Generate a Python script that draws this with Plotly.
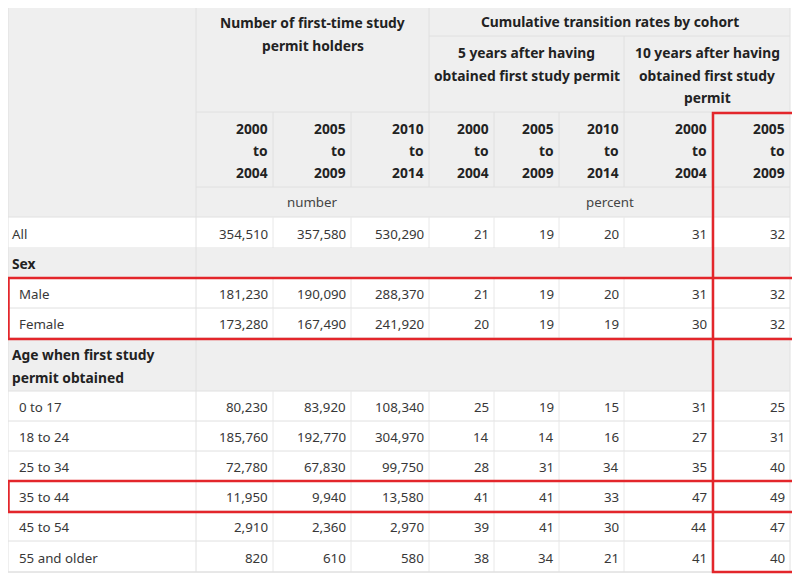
import plotly.graph_objects as go

# ---------------- data ----------------
row_labels = ["All", "Male", "Female", "0 to 17", "18 to 24", "25 to 34",
              "35 to 44", "45 to 54", "55 and older"]
holders_2000_2004 = [354510, 181230, 173280, 80230, 185760, 72780, 11950, 2910, 820]
holders_2005_2009 = [357580, 190090, 167490, 83920, 192770, 67830, 9940, 2360, 610]
holders_2010_2014 = [530290, 288370, 241920, 108340, 304970, 99750, 13580, 2970, 580]
rate5_2000_2004 = [21, 21, 20, 25, 14, 28, 41, 39, 38]
rate5_2005_2009 = [19, 19, 19, 19, 14, 31, 41, 41, 34]
rate5_2010_2014 = [20, 20, 19, 15, 16, 34, 33, 30, 21]
rate10_2000_2004 = [31, 31, 30, 31, 27, 35, 47, 44, 41]
rate10_2005_2009 = [32, 32, 32, 25, 31, 40, 49, 47, 40]
cohort_labels = ["2000 to 2004", "2005 to 2009", "2010 to 2014",
                 "2000 to 2004", "2005 to 2009", "2010 to 2014",
                 "2000 to 2004", "2005 to 2009"]
section_labels = ["Sex", "Age when first study permit obtained"]
group_titles = ["Number of first-time study permit holders",
                "Cumulative transition rates by cohort",
                "5 years after having obtained first study permit",
                "10 years after having obtained first study permit"]
unit_labels = ["number", "percent"]

columns = [holders_2000_2004, holders_2005_2009, holders_2010_2014,
           rate5_2000_2004, rate5_2005_2009, rate5_2010_2014,
           rate10_2000_2004, rate10_2005_2009]

# ---------------- layout geometry (page pixels) ----------------
OFF = 8  # page body margin of the html page
X0, X1 = 8, 790
col_edges = [196, 273, 351, 429, 494, 559, 624, 712, 790]
Y_TOP, Y_BOT = 5, 572
GRAY = "#efefef"
LINE = "#e0e0e0"
TXT = "#383838"
HDR = "#222222"
FONT = "Noto Sans"
FS = 13.3
FSH = 13.8
PAD_R = 3

body = [("d", 0, 217, 248), ("s", 0, 248, 278), ("d", 1, 278, 308), ("d", 2, 308, 338),
        ("s", 1, 338, 391), ("d", 3, 391, 421), ("d", 4, 421, 451), ("d", 5, 451, 481),
        ("d", 6, 481, 511), ("d", 7, 511, 541), ("d", 8, 541, 572)]

shapes = []
annotations = []

def rect(x0, y0, x1, y1, fill):
    shapes.append(dict(type="rect", xref="x", yref="y", x0=x0, y0=y0, x1=x1, y1=y1,
                       fillcolor=fill, line=dict(color=fill, width=0), layer="below"))

def hline(y, x0, x1, color=LINE):
    shapes.append(dict(type="line", xref="x", yref="y", x0=x0, x1=x1, y0=y, y1=y,
                       line=dict(color=color, width=1), layer="below"))

def vline(x, y0, y1, color=LINE):
    shapes.append(dict(type="line", xref="x", yref="y", x0=x, x1=x, y0=y0, y1=y1,
                       line=dict(color=color, width=1), layer="below"))

def text(x, y, s, anchor="left", bold=False, color=TXT, size=None):
    if size is None:
        size = FSH if bold else FS
    annotations.append(dict(x=x, y=y, xref="x", yref="y", text=("<b>%s</b>" % s) if bold else s,
                            showarrow=False, xanchor=anchor, yanchor="middle",
                            font=dict(family=FONT, size=size, color=color)))

# header background
rect(X0, Y_TOP, X1, 217, GRAY)
hline(36, 429, X1)
hline(112, 196, X1)
hline(187, 196, X1)
hline(217, X0, X1)
vline(196, Y_TOP, Y_BOT)
vline(429, Y_TOP, 187)
vline(624, 36, 187)
for xe in [273, 351, 494, 559, 712]:
    vline(xe, 112, 187)

cx_num = (196 + 429) / 2
cx_cum = (429 + 790) / 2
cx_5 = (429 + 624) / 2
cx_10 = (624 + 790) / 2
text(cx_num, 22, "Number of first-time study", "center", True, HDR)
text(cx_num, 45, "permit holders", "center", True, HDR)
text(cx_cum, 21, group_titles[1], "center", True, HDR)
text(cx_5, 52, "5 years after having", "center", True, HDR)
text(cx_5, 75, "obtained first study permit", "center", True, HDR)
text(cx_10, 52, "10 years after having", "center", True, HDR)
text(cx_10, 75, "obtained first study", "center", True, HDR)
text(cx_10, 97, "permit", "center", True, HDR)
for i, lab in enumerate(cohort_labels):
    parts = lab.split(" ")
    xr = col_edges[i + 1] - PAD_R
    for j, p in enumerate(parts):
        text(xr, 128 + 22 * j, p, "right", True, HDR)
text(cx_num, 202, unit_labels[0], "center", False, "#444444")
text(cx_cum, 202, unit_labels[1], "center", False, "#444444")

for kind, idx, y0, y1 in body:
    ym = (y0 + y1) / 2
    if kind == "s":
        rect(X0, y0, X1, y1, GRAY)
        vline(196, y0, y1)
        if idx == 1:
            text(10, y0 + 16, "Age when first study", "left", True, HDR)
            text(10, y0 + 39, "permit obtained", "left", True, HDR)
        else:
            text(10, ym, section_labels[idx], "left", True, HDR)
    else:
        for xe in col_edges[1:-1]:
            vline(xe, y0, y1, "#e8e8e8")
        text(10 if idx == 0 else 17, ym + 1, row_labels[idx], "left")
        for c, vals in enumerate(columns):
            text(col_edges[c + 1] - PAD_R, ym + 1, "{:,}".format(vals[idx]), "right")
    hline(y1, X0, X1)

shapes.append(dict(type="rect", x0=X0, x1=X1, y0=Y_TOP, y1=Y_BOT, xref="x", yref="y",
                   line=dict(color=LINE, width=1), fillcolor="rgba(0,0,0,0)", layer="below"))

RED = "#e3262b"
for (x0, y0, x1, y1) in [(8.5, 278, 794, 339), (8.5, 481, 794, 512), (713, 113, 794, 572)]:
    shapes.append(dict(type="rect", xref="x", yref="y", x0=x0, x1=x1, y0=y0, y1=y1,
                       line=dict(color=RED, width=2.5), fillcolor="rgba(0,0,0,0)", layer="above"))

fig = go.Figure()
fig.add_trace(go.Scatter(x=[OFF, 800 + OFF], y=[OFF, 576 + OFF], mode="markers",
                         marker=dict(opacity=0), hoverinfo="skip", showlegend=False))
fig.update_layout(
    width=800, height=576, margin=dict(l=0, r=0, t=0, b=0),
    paper_bgcolor="white", plot_bgcolor="white",
    xaxis=dict(range=[OFF, 800 + OFF], visible=False, fixedrange=True),
    yaxis=dict(range=[576 + OFF, OFF], visible=False, fixedrange=True),
    shapes=shapes, annotations=annotations, showlegend=False,
)
fig.write_html("out.html")
